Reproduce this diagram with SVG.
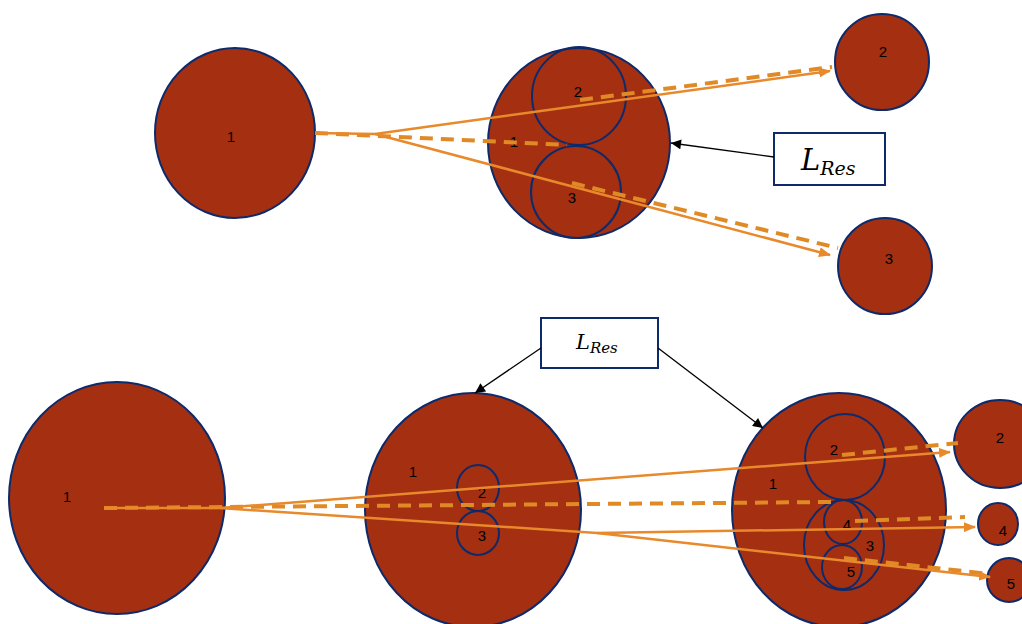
<svg xmlns="http://www.w3.org/2000/svg" width="1022" height="624" viewBox="0 0 1022 624">
<style>
.c{fill:#A52F11;stroke:#0D2A6B;stroke-width:2}
.i{fill:none;stroke:#0D2A6B;stroke-width:2}
.n{font-family:"Liberation Sans",Arial,sans-serif;font-size:15px;fill:#000;text-anchor:middle}
.s{fill:none;stroke:#E8892B;stroke-width:2.5}
.d{fill:none;stroke:#E08A26;stroke-width:4;stroke-dasharray:13 8}
.k{fill:none;stroke:#000;stroke-width:1.3}
.b{fill:#fff;stroke:#0D2A6B;stroke-width:2}
.m{font-family:"DejaVu Serif","Liberation Serif",serif;font-style:italic;fill:#000}
</style>
<defs>
<marker id="ao" viewBox="0 0 12 10" refX="11" refY="5" markerWidth="12" markerHeight="10" markerUnits="userSpaceOnUse" orient="auto">
<path d="M0,0 L12,5 L0,10 Z" fill="#E8892B"/>
</marker>
<marker id="ak" viewBox="0 0 10 10" refX="10" refY="5" markerWidth="12" markerHeight="10" markerUnits="userSpaceOnUse" orient="auto">
<path d="M0,0 L10,5 L0,10 Z" fill="#000"/>
</marker>
</defs>
<g id="top-n1"><ellipse class="c" cx="235" cy="133" rx="80" ry="85"/><text class="n" x="231" y="142">1</text></g>
<g id="top-n-mid"><ellipse class="c" cx="579" cy="143" rx="91" ry="95"/><text class="n" x="514" y="147">1</text>
<ellipse class="i" cx="579" cy="96" rx="47" ry="49"/><text class="n" x="578" y="97">2</text>
<ellipse class="i" cx="576" cy="192" rx="45" ry="46"/><text class="n" x="572" y="203">3</text></g>
<g id="top-n2"><ellipse class="c" cx="882" cy="62" rx="47" ry="48"/><text class="n" x="883" y="57">2</text></g>
<g id="top-n3"><ellipse class="c" cx="885" cy="266" rx="47" ry="48"/><text class="n" x="889" y="264">3</text></g>
<g id="top-box"><rect class="b" x="774" y="133" width="111" height="52"/><text class="m" x="801" y="170" font-size="29">L<tspan font-size="19" dy="5">Res</tspan></text></g>
<g id="bot-n1"><ellipse class="c" cx="117" cy="498" rx="108" ry="116"/><text class="n" x="67" y="502">1</text></g>
<g id="bot-n-mid"><ellipse class="c" cx="473" cy="510" rx="108" ry="117"/><text class="n" x="413" y="477">1</text>
<ellipse class="i" cx="478" cy="488" rx="21" ry="23"/><text class="n" x="482" y="498">2</text>
<ellipse class="i" cx="478" cy="533" rx="21" ry="22"/><text class="n" x="482" y="541">3</text></g>
<g id="bot-n-right"><ellipse class="c" cx="839" cy="510" rx="107" ry="117"/><text class="n" x="773" y="489">1</text>
<ellipse class="i" cx="845" cy="457" rx="40" ry="43"/><text class="n" x="834" y="455">2</text>
<ellipse class="i" cx="844" cy="545" rx="40" ry="45"/><text class="n" x="870" y="551">3</text>
<ellipse class="i" cx="843" cy="522" rx="19" ry="22"/><text class="n" x="847" y="530">4</text>
<ellipse class="i" cx="842" cy="567" rx="20" ry="22"/><text class="n" x="851" y="577">5</text></g>
<g id="bot-n2"><ellipse class="c" cx="1000" cy="444" rx="46" ry="44"/><text class="n" x="1000" y="443">2</text></g>
<g id="bot-n4"><ellipse class="c" cx="998" cy="524" rx="20" ry="21"/><text class="n" x="1003" y="536">4</text></g>
<g id="bot-n5"><ellipse class="c" cx="1009" cy="580" rx="22" ry="22"/><text class="n" x="1011" y="589">5</text></g>
<g id="bot-box"><rect class="b" x="541" y="318" width="117" height="50"/><text class="m" x="576" y="349" font-size="21">L<tspan font-size="15" dy="4">Res</tspan></text></g>
<g id="connectors">
<path class="d" d="M315,133 L567,145"/>
<path class="d" d="M580,100 L832,67"/>
<path class="d" d="M572,183 L838,248"/>
<path class="s" d="M315,133 L375,134"/>
<path class="s" d="M375,134 L830,71" marker-end="url(#ao)"/>
<path class="s" d="M375,134 L830,255" marker-end="url(#ao)"/>
<path class="k" d="M774,157 L671,143" marker-end="url(#ak)"/>
<path class="d" d="M104,508 L833,502"/>
<path class="d" d="M842,455 L958,443"/>
<path class="d" d="M855,521 L965,517"/>
<path class="d" d="M844,558 L990,574"/>
<path class="s" d="M104,508 L220,508"/>
<path class="s" d="M220,508 L950,452" marker-end="url(#ao)"/>
<path class="s" d="M220,508 L597,533"/>
<path class="s" d="M597,533 L975,527" marker-end="url(#ao)"/>
<path class="s" d="M597,533 L990,577" marker-end="url(#ao)"/>
<path class="k" d="M541,348 L475,393" marker-end="url(#ak)"/>
<path class="k" d="M658,348 L763,428" marker-end="url(#ak)"/>
</g>
</svg>
